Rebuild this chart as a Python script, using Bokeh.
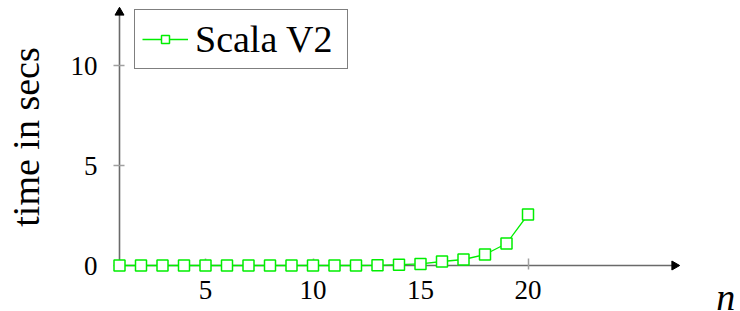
import math
from bokeh.plotting import figure
from bokeh.models import Range1d, FixedTicker, Legend, LegendItem
from bokeh.core.properties import value
from bokeh.embed import file_html
from bokeh.resources import INLINE

# data
n_values = list(range(1, 21))
scala_v2 = [0, 0, 0, 0, 0, 0, 0, 0, 0, 0, 0, 0, 0.01, 0.04, 0.08, 0.2, 0.3, 0.55, 1.1, 2.55]
x_ticks = [5, 10, 15, 20]
y_ticks = [0, 5, 10]
series_name = "Scala V2"
x_label = "n"
y_label = "time in secs"

FONT = "Liberation Serif"
GREEN = "#00ee00"
AXIS = "#6a6a6a"
TICK = "#a0a0a0"

X0, X1 = 1, 27
Y0, Y1 = 0, 12.85

p = figure(width=740, height=311, output_backend="svg", toolbar_location=None,
           x_range=Range1d(X0, X1), y_range=Range1d(Y0, Y1),
           min_border_left=119, min_border_right=62, min_border_top=8, min_border_bottom=46)
p.outline_line_color = None
p.xgrid.visible = False
p.ygrid.visible = False

for ax in (p.xaxis[0], p.yaxis[0]):
    ax.axis_line_color = AXIS
    ax.axis_line_width = 1.6
    ax.major_tick_line_color = TICK
    ax.major_tick_line_width = 1.5
    ax.minor_tick_line_color = None
    ax.major_label_text_font = FONT
    ax.major_label_text_font_size = "27px"
    ax.major_label_text_color = "black"

p.xaxis[0].ticker = FixedTicker(ticks=x_ticks)
p.xaxis[0].major_tick_in = 7
p.xaxis[0].major_tick_out = 4
p.xaxis[0].major_label_standoff = 11

p.yaxis[0].ticker = FixedTicker(ticks=y_ticks)
p.yaxis[0].major_tick_in = 5
p.yaxis[0].major_tick_out = 6
p.yaxis[0].major_label_standoff = 16
p.yaxis[0].axis_label = y_label
p.yaxis[0].axis_label_text_font = FONT
p.yaxis[0].axis_label_text_font_size = "38px"
p.yaxis[0].axis_label_text_font_style = "normal"
p.yaxis[0].axis_label_text_color = "black"
p.yaxis[0].axis_label_standoff = 21

# arrow heads at the ends of the axis lines (unclipped overlay glyphs)
p.scatter([X1 - 4 / 21.5], [Y0], marker="triangle", size=9, angle=-math.pi / 2,
          fill_color="black", line_color="black", level="overlay")
p.scatter([X0], [Y1 - 4 / 20], marker="triangle", size=9, angle=0,
          fill_color="black", line_color="black", level="overlay")

ln = p.line(n_values, scala_v2, line_color=GREEN, line_width=1.3, level="overlay")
sc = p.scatter(n_values, scala_v2, marker="square", size=11, fill_color="white",
               line_color=GREEN, line_width=1.5, level="overlay")

legend = Legend(items=[LegendItem(label=series_name, renderers=[ln, sc])],
                location=(15, 196), margin=0, padding=7, spacing=0,
                glyph_width=46, glyph_height=20, label_standoff=7, label_width=145,
                label_text_font=FONT, label_text_font_size="38px", label_text_color="black",
                border_line_color="black", border_line_width=1,
                background_fill_color="white", background_fill_alpha=1.0)
p.add_layout(legend)

# x-axis label "n" at the right end, below the axis
p.text(x=[28.75], y=[-1.55], text=[x_label], text_baseline="alphabetic", text_align="left",
       text_font=value(FONT), text_font_style="italic", text_font_size="38px",
       text_color="black", level="overlay")

open("out.html", "w").write(file_html(p, INLINE))
